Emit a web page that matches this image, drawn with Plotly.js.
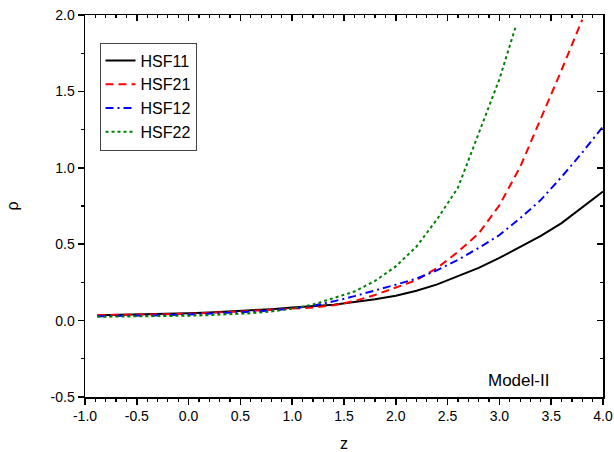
<!DOCTYPE html>
<html>
<head>
<meta charset="utf-8">
<script src="https://cdn.plot.ly/plotly-3.0.1.min.js"></script>
<style>html,body{margin:0;padding:0;background:#fff;}#chart{width:614px;height:452px;}</style>
</head>
<body>
<div id="chart"></div>
<script>
// Data
var seriesNames = ["HSF11", "HSF21", "HSF12", "HSF22"];
var zHSF11 = [-0.88, -0.6, -0.4, -0.2, 0, 0.2, 0.4, 0.6, 0.8, 1.0, 1.2, 1.4, 1.6, 1.8, 2.0, 2.2, 2.4, 2.6, 2.8, 3.0, 3.2, 3.4, 3.6, 3.8, 4.0];
var rhoHSF11 = [0.035, 0.038, 0.041, 0.044, 0.048, 0.053, 0.059, 0.066, 0.075, 0.085, 0.093, 0.104, 0.122, 0.140, 0.163, 0.195, 0.237, 0.29, 0.345, 0.41, 0.48, 0.555, 0.638, 0.74, 0.845];
var zHSF21 = [-0.88, -0.6, -0.4, -0.2, 0, 0.2, 0.4, 0.6, 0.8, 1.0, 1.2, 1.4, 1.6, 1.8, 2.0, 2.2, 2.4, 2.6, 2.8, 3.0, 3.2, 3.4, 3.6, 3.8];
var rhoHSF21 = [0.036, 0.037, 0.040, 0.042, 0.045, 0.050, 0.056, 0.063, 0.071, 0.078, 0.086, 0.100, 0.128, 0.168, 0.215, 0.265, 0.345, 0.45, 0.57, 0.755, 1.005, 1.32, 1.64, 1.97];
var zHSF12 = [-0.88, -0.6, -0.4, -0.2, 0, 0.2, 0.4, 0.6, 0.8, 1.0, 1.2, 1.4, 1.6, 1.8, 2.0, 2.2, 2.4, 2.6, 2.8, 3.0, 3.2, 3.4, 3.6, 3.8, 4.0];
var rhoHSF12 = [0.028, 0.030, 0.033, 0.036, 0.040, 0.045, 0.051, 0.058, 0.067, 0.079, 0.097, 0.126, 0.160, 0.196, 0.235, 0.275, 0.33, 0.398, 0.475, 0.56, 0.67, 0.79, 0.94, 1.10, 1.27];
var zHSF22 = [-0.88, -0.6, -0.4, -0.2, 0, 0.2, 0.4, 0.6, 0.8, 1.0, 1.2, 1.4, 1.6, 1.8, 2.0, 2.2, 2.4, 2.6, 2.8, 3.0, 3.16];
var rhoHSF22 = [0.025, 0.026, 0.027, 0.029, 0.032, 0.036, 0.041, 0.048, 0.060, 0.078, 0.105, 0.148, 0.19, 0.26, 0.355, 0.485, 0.665, 0.87, 1.22, 1.58, 1.93];
var xTickVals = [-1.0, -0.5, 0.0, 0.5, 1.0, 1.5, 2.0, 2.5, 3.0, 3.5, 4.0];
var xTickText = ["-1.0", "-0.5", "0.0", "0.5", "1.0", "1.5", "2.0", "2.5", "3.0", "3.5", "4.0"];
var yTickVals = [-0.5, 0.0, 0.5, 1.0, 1.5, 2.0];
var yTickText = ["-0.5", "0.0", "0.5", "1.0", "1.5", "2.0"];
var annotationText = "Model-II";

var font = "Liberation Sans, Arial, sans-serif";
var traces = [
  {x: zHSF11, y: rhoHSF11, name: seriesNames[0], mode: "lines", line: {color: "#000000", width: 2, dash: "solid"}},
  {x: zHSF21, y: rhoHSF21, name: seriesNames[1], mode: "lines", line: {color: "#ff0000", width: 2, dash: "8px,5px"}},
  {x: zHSF12, y: rhoHSF12, name: seriesNames[2], mode: "lines", line: {color: "#0000ff", width: 2, dash: "8px,4px,2px,4px"}},
  {x: zHSF22, y: rhoHSF22, name: seriesNames[3], mode: "lines", line: {color: "#008000", width: 2, dash: "3px,3px"}},
  {x: [null], y: [null], xaxis: "x2", yaxis: "y2", mode: "lines", showlegend: false, hoverinfo: "skip"}
];

var xr = [-1, 4], yr = [-0.5, 2];
var common = {showgrid: false, zeroline: false, showline: true, linecolor: "#000", linewidth: 1.5, tickcolor: "#000", tickwidth: 1.5};
var layout = {
  width: 614, height: 452,
  margin: {l: 85, r: 11, t: 15, b: 55},
  paper_bgcolor: "#fff", plot_bgcolor: "#fff",
  font: {family: font, color: "#000", size: 14},
  showlegend: true,
  legend: {x: 0.028, y: 0.928, xanchor: "left", yanchor: "top", bgcolor: "#fff", bordercolor: "#444", borderwidth: 1,
           font: {family: font, size: 16, color: "#000"}, tracegroupgap: 0},
  xaxis: Object.assign({}, common, {range: xr, tickvals: xTickVals, ticktext: xTickText, ticks: "outside", ticklen: 6,
          minor: {dtick: 0.1, ticks: "outside", ticklen: 3, tickcolor: "#000", tickwidth: 1.2},
          title: {text: "z", font: {family: font, size: 16}, standoff: 16}, tickfont: {family: font, size: 14}}),
  yaxis: Object.assign({}, common, {range: yr, tickvals: yTickVals, ticktext: yTickText, ticks: "outside", ticklen: 6,
          minor: {dtick: 0.25, tick0: 0, ticks: "outside", ticklen: 3, tickcolor: "#000", tickwidth: 1.2},
          title: {text: "ρ", font: {family: font, size: 16}, standoff: 28}, tickfont: {family: font, size: 14}}),
  xaxis2: Object.assign({}, common, {range: xr, overlaying: "x", side: "top", anchor: "y2", tickvals: xTickVals, ticks: "inside", ticklen: 6,
          minor: {dtick: 0.1, ticks: "inside", ticklen: 3, tickcolor: "#000", tickwidth: 1.2}, showticklabels: false}),
  yaxis2: Object.assign({}, common, {range: yr, overlaying: "y", side: "right", anchor: "x2", tickvals: yTickVals, ticks: "inside", ticklen: 6,
          minor: {dtick: 0.25, tick0: 0, ticks: "inside", ticklen: 3, tickcolor: "#000", tickwidth: 1.2}, showticklabels: false}),
  annotations: [{x: 3.18, y: -0.39, xref: "x", yref: "y", text: annotationText, showarrow: false,
                 font: {family: font, size: 17, color: "#000"}}]
};
Plotly.newPlot("chart", traces, layout, {displayModeBar: false, staticPlot: true});
</script>
</body>
</html>
